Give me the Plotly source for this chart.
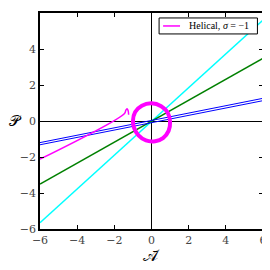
import plotly.graph_objects as go

# Straight lines (endpoints read at x=-6 and x=6)
line_x = [-6, 6]
cyan_y = [-5.65, 5.6]
green_y = [-3.5, 3.48]
blue1_y = [-1.2, 1.26]
blue2_y = [-1.32, 1.13]

# Magenta helical trajectory: approach segment with hook
mag_x = [-6.0, -1.45, -1.38, -1.32, -1.26, -1.23]
mag_y = [-2.12, 0.42, 0.6, 0.68, 0.58, 0.35]

# Magenta loop
loop_x = [-1.0, -0.88, -0.52, 0.0, 0.52, 0.88, 1.0, 0.92, 0.62, 0.2, -0.3, -0.7, -0.93, -1.0]
loop_y = [0.0, 0.5, 0.85, 0.98, 0.82, 0.45, -0.05, -0.55, -0.95, -1.12, -1.08, -0.8, -0.4, 0.0]

legend_label = "Helical, <i>σ</i> = −1"

fig = go.Figure()
fig.add_trace(go.Scatter(x=line_x, y=cyan_y, mode="lines", line=dict(color="cyan", width=1.5), showlegend=False))
fig.add_trace(go.Scatter(x=line_x, y=green_y, mode="lines", line=dict(color="green", width=1.5), showlegend=False))
fig.add_trace(go.Scatter(x=line_x, y=blue1_y, mode="lines", line=dict(color="blue", width=1), showlegend=False))
fig.add_trace(go.Scatter(x=line_x, y=blue2_y, mode="lines", line=dict(color="blue", width=1), showlegend=False))
fig.add_trace(go.Scatter(x=mag_x, y=mag_y, mode="lines", line=dict(color="magenta", width=1.5, shape="spline"),
                         name=legend_label, showlegend=False))
fig.add_trace(go.Scatter(x=loop_x, y=loop_y, mode="lines", line=dict(color="magenta", width=4, shape="spline"),
                         showlegend=False))

axis_common = dict(
    range=[-6, 6], tickvals=[-6, -4, -2, 0, 2, 4, 6],
    ticktext=["−6", "−4", "−2", "0", "2", "4", "6"],
    ticks="inside", ticklen=4, tickcolor="black", tickwidth=1,
    showline=True, linecolor="black", linewidth=1.5, mirror="allticks",
    showgrid=False, zeroline=True, zerolinecolor="black", zerolinewidth=1,
    tickfont=dict(family="DejaVu Serif", size=11, color="#444"),
    automargin=False,
)
fig.update_xaxes(**axis_common)
fig.update_yaxes(**axis_common)

fig.add_annotation(text="𝒜̄", xref="paper", yref="paper", x=0.5, y=-0.07, yanchor="top",
                   showarrow=False, font=dict(family="DejaVu Serif", size=16, color="black"))
fig.add_annotation(text="𝒫", xref="paper", yref="paper", x=-0.11, y=0.5, xanchor="center",
                   showarrow=False, borderpad=0,
                   font=dict(family="DejaVu Serif", size=15, color="black"))

# Manual legend box matching the reference's compact style
fig.add_shape(type="rect", xref="paper", yref="paper", x0=0.534, x1=0.975, y0=0.903, y1=0.977,
              line=dict(color="black", width=1), fillcolor="white", layer="above")
fig.add_shape(type="line", xref="paper", yref="paper", x0=0.552, x1=0.628, y0=0.94, y1=0.94,
              line=dict(color="magenta", width=1.5), layer="above")
fig.add_annotation(text=legend_label, xref="paper", yref="paper", x=0.66, y=0.94, xanchor="left",
                   yanchor="middle", showarrow=False,
                   font=dict(family="Liberation Serif", size=10, color="black"))

fig.update_layout(
    width=270, height=270,
    margin=dict(l=32, r=15, t=5, b=49),
    plot_bgcolor="white", paper_bgcolor="rgba(0,0,0,0)",
    showlegend=False,
)
fig.write_html("out.html")
